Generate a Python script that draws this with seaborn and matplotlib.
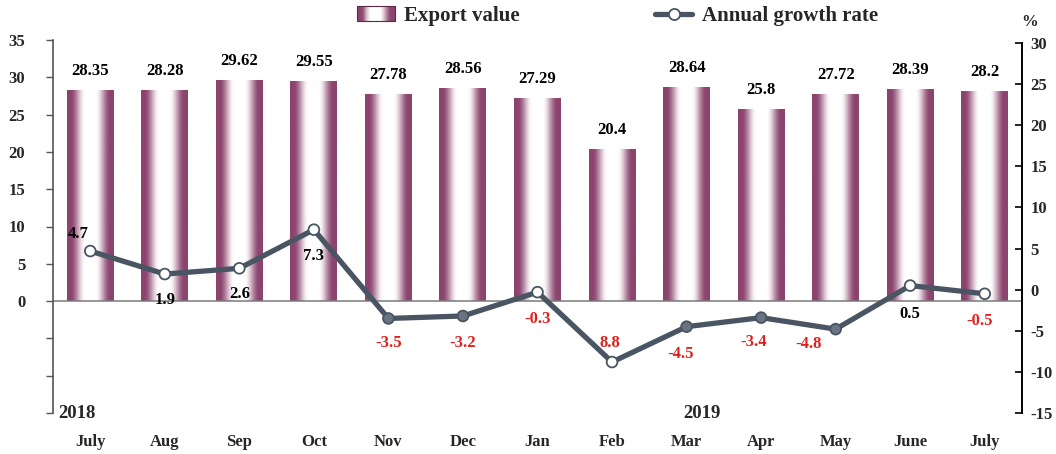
import numpy as np
import pandas as pd
import matplotlib
matplotlib.use("Agg")
import matplotlib.pyplot as plt
from matplotlib.patches import Rectangle
from matplotlib.lines import Line2D
from matplotlib.legend_handler import HandlerBase
import seaborn as sns

# ---------------- data ----------------
periods = ["2018-07", "2018-08", "2018-09", "2018-10", "2018-11", "2018-12",
           "2019-01", "2019-02", "2019-03", "2019-04", "2019-05", "2019-06", "2019-07"]
month_labels = ["July", "Aug", "Sep", "Oct", "Nov", "Dec", "Jan", "Feb",
                "Mar", "Apr", "May", "June", "July"]
export_value = [28.35, 28.28, 29.62, 29.55, 27.78, 28.56, 27.29, 20.4,
                28.64, 25.8, 27.72, 28.39, 28.2]
growth_rate = [4.7, 1.9, 2.6, 7.3, -3.5, -3.2, -0.3, -8.8,
               -4.5, -3.4, -4.8, 0.5, -0.5]
growth_text = ["4.7", "1.9", "2.6", "7.3", "-3.5", "-3.2", "-0.3", "8.8",
               "-4.5", "-3.4", "-4.8", "0.5", "-0.5"]
year_labels = ["2018", "2019"]
left_ticks = [-15, -10, -5, 0, 5, 10, 15, 20, 25, 30, 35]
right_ticks = [-15, -10, -5, 0, 5, 10, 15, 20, 25, 30]

# ---------------- style ----------------
sns.set_style("white")
plt.rcParams["font.family"] = ["Liberation Serif", "DejaVu Serif"]
plt.rcParams["font.weight"] = "bold"

BAR_EDGE = np.array([140, 68, 110]) / 255.0
LINE_C = "#4a5563"
RED = "#e0201c"
GRAY_MFC = "#6a7380"
# label offsets (pixels) for growth labels
g_off = [(-12, 17), (0, -26), (0, -26), (0, -26), (0, -25), (0, -27), (0, -27),
         (-2, 19), (-6, -27), (-7, -24), (-27, -15), (0, -28), (-5, -27)]
mfc = ["white"] * 4 + [GRAY_MFC, GRAY_MFC, "white", "white",
                       GRAY_MFC, GRAY_MFC, GRAY_MFC, "white", "white"]


def gradient_colors(n=200):
    t = np.linspace(-1, 1, n)
    a = np.clip((np.abs(t) - 0.22) / (0.85 - 0.22), 0, 1)
    s = a * a * (3 - 2 * a)
    cols = (1 - s)[:, None] * np.ones(3) + s[:, None] * BAR_EDGE
    return cols


W, H = 1056, 454
fig = plt.figure(figsize=(W / 100, H / 100), dpi=100)
ax = fig.add_axes([53 / W, 1 - 413 / H, (1022 - 53) / W, (413 - 40) / H])

df = pd.DataFrame({"period": periods, "value": export_value})
sns.barplot(data=df, x="period", y="value", ax=ax, color=BAR_EDGE,
            width=0.63, saturation=1, order=periods)

grad = gradient_colors()[None, :, :]
for p in ax.patches:
    x0, y0, w, h = p.get_x(), p.get_y(), p.get_width(), p.get_height()
    im = ax.imshow(grad, extent=[x0, x0 + w, y0, y0 + h], aspect="auto",
                   zorder=p.get_zorder(), interpolation="bilinear")
    im.set_clip_path(p)
    p.set_facecolor("none")
    p.set_edgecolor("none")

ax.set_xlim(-0.5, 12.5)
ax.set_ylim(-15, 35)
ax.axhline(0, color="#7a7a7a", lw=1.1, zorder=1)

for i, v in enumerate(export_value):
    ax.annotate(f"{v:g}", xy=(i, v), xytext=(0, 19), textcoords="offset pixels",
                ha="center", va="center", fontsize=12, fontweight="bold", color="black")

ax.set_yticks(left_ticks)
ax.set_yticklabels([str(t) if t >= 0 else "" for t in left_ticks])
ax.tick_params(axis="y", direction="out", length=5, width=1, color="#555555",
               pad=15, labelsize=12)
ax.set_xticks(range(len(month_labels)))
ax.set_xticklabels(month_labels)
ax.tick_params(axis="x", length=0, pad=15, labelsize=12)
ax.set_xlabel("")
ax.set_ylabel("")
for s in ["top", "right", "bottom"]:
    ax.spines[s].set_visible(False)
ax.spines["left"].set_color("#555555")
ax.spines["left"].set_linewidth(1.2)

# year labels
ax.text(-0.43, -15, year_labels[0], ha="left", va="center", fontsize=13.5,
        fontweight="bold", transform=ax.transData)
ax.text(8.2, -15, year_labels[1], ha="center", va="center", fontsize=13.5,
        fontweight="bold", transform=ax.transData)

# ---------------- line on twin axis ----------------
ax2 = ax.twinx()
xs = list(range(len(growth_rate)))
sns.lineplot(x=xs, y=growth_rate, ax=ax2, color=LINE_C, lw=3.8, sort=False, zorder=3)
ax2.scatter(xs, growth_rate, s=60, c=mfc, edgecolors=LINE_C, linewidths=1.3, zorder=4)
ax2.set_ylim(-15, 30.37)
ax2.set_xlim(-0.5, 12.5)
ax2.set_yticks(right_ticks)
ax2.set_yticklabels([str(t) for t in right_ticks])
ax2.tick_params(axis="y", direction="in", length=5, width=1.2, color="black",
                pad=6, labelsize=12)
for s in ["top", "left", "bottom"]:
    ax2.spines[s].set_visible(False)
ax2.spines["right"].set_color("black")
ax2.spines["right"].set_linewidth(1.4)
ax2.spines["right"].set_bounds(-15, 30)

for i, (v, t) in enumerate(zip(growth_rate, growth_text)):
    dx, dy = g_off[i]
    ax2.annotate(t, xy=(i, v), xytext=(dx, dy), textcoords="offset pixels",
                 ha="center", va="center", fontsize=12, fontweight="bold",
                 color=RED if v < 0 else "black", zorder=5)

fig.text(1030 / W, 1 - 22 / H, "%", ha="center", va="center", fontsize=12,
         fontweight="bold")


# ---------------- legend ----------------
class GradientHandler(HandlerBase):
    def create_artists(self, legend, orig_handle, xdescent, ydescent, width,
                       height, fontsize, trans):
        cols = gradient_colors(40)
        n = len(cols)
        arts = []
        for k, c in enumerate(cols):
            r = Rectangle((-xdescent + width * k / n, -ydescent), width / n * 1.05,
                          height, facecolor=c, edgecolor="none", transform=trans)
            arts.append(r)
        border = Rectangle((-xdescent, -ydescent), width, height, facecolor="none",
                           edgecolor="#5a2a45", lw=0.8, transform=trans)
        arts.append(border)
        return arts


bar_handle = Rectangle((0, 0), 1, 1)
line_handle = Line2D([], [], color=LINE_C, lw=3.8, marker="o", ms=8,
                     mfc="white", mec=LINE_C, mew=1.3)
leg = fig.legend([bar_handle, line_handle], ["Export value", "Annual growth rate"],
                 handler_map={Rectangle: GradientHandler()},
                 loc="upper left", bbox_to_anchor=(357 / W, 1 - 6 / H),
                 ncol=2, frameon=False, borderpad=0, borderaxespad=0,
                 handlelength=1.8, handletextpad=0.45, columnspacing=6.5,
                 prop={"family": ["Liberation Serif"], "weight": "bold", "size": 15})

fig.savefig("out.png", dpi=100)
